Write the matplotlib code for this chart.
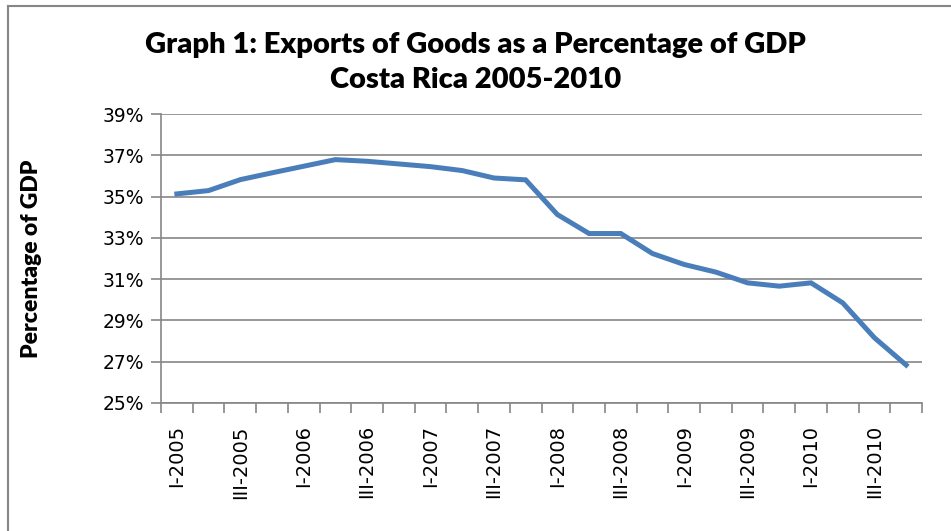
import matplotlib
matplotlib.use("Agg")
import matplotlib.pyplot as plt
from matplotlib.lines import Line2D
import numpy as np

quarters = [f"{q}-{y}" for y in range(2005, 2011) for q in ["I", "II", "III", "IV"]]
exports_pct = [35.13, 35.29, 35.82, 36.15, 36.47, 36.79, 36.71, 36.58,
               36.45, 36.26, 35.90, 35.81, 34.13, 33.21, 33.21, 32.24,
               31.71, 31.34, 30.82, 30.66, 30.82, 29.85, 28.16, 26.84]
y_ticks = [25, 27, 29, 31, 33, 35, 37, 39]

grey = "#868686"
blue = "#4A7EBB"

fig = plt.figure(figsize=(9.51, 5.31), dpi=100)
ax = fig.add_axes([161 / 951, 128 / 531, 761 / 951, 289 / 531])

x = np.arange(len(quarters))
ax.plot(x, exports_pct, color=blue, linewidth=3.6, solid_joinstyle="miter", zorder=3)

ax.set_xlim(-0.5, len(quarters) - 0.5)
ax.set_ylim(y_ticks[0], y_ticks[-1])

# horizontal gridlines
ax.set_yticks(y_ticks)
ax.set_yticklabels([f"{v}%" for v in y_ticks], fontsize=13.5)
ax.yaxis.grid(True, color=grey, linewidth=1.2)
ax.set_axisbelow(True)

# tick marks between categories, labels on every other quarter
ax.set_xticks(np.arange(-0.5, len(quarters), 1))
ax.set_xticklabels([])
ax.set_xticks(x[::2], minor=True)
ax.set_xticklabels(quarters[::2], minor=True, rotation=90, fontsize=14, va="top")
ax.tick_params(axis="x", which="major", length=7, width=1.2, color=grey)
ax.tick_params(axis="x", which="minor", length=0, pad=16)
ax.tick_params(axis="y", length=7, width=1.2, color=grey, pad=5)

for side in ["top", "right"]:
    ax.spines[side].set_visible(False)
for side in ["left", "bottom"]:
    ax.spines[side].set_color(grey)
    ax.spines[side].set_linewidth(1.2)

ax.set_ylabel("Percentage of GDP", fontsize=16.5, fontweight="heavy", family="Lato")
ax.yaxis.set_label_coords(-119 / 761, 0.5)

fig.text(0.5, 1 - 45 / 531, "Graph 1: Exports of Goods as a Percentage of GDP",
         ha="center", va="center", fontsize=21, fontweight="heavy", family="Lato")
fig.text(0.5, 1 - 80 / 531, "Costa Rica 2005-2010",
         ha="center", va="center", fontsize=21, fontweight="heavy", family="Lato")

# chart area border (only the left and top edges fall inside the image)
fig.add_artist(Line2D([8 / 951, 8 / 951], [0, 1 - 6 / 531], color=grey, linewidth=1.5))
fig.add_artist(Line2D([8 / 951, 1], [1 - 6 / 531, 1 - 6 / 531], color=grey, linewidth=1.5))

fig.savefig("out.png", dpi=100)
